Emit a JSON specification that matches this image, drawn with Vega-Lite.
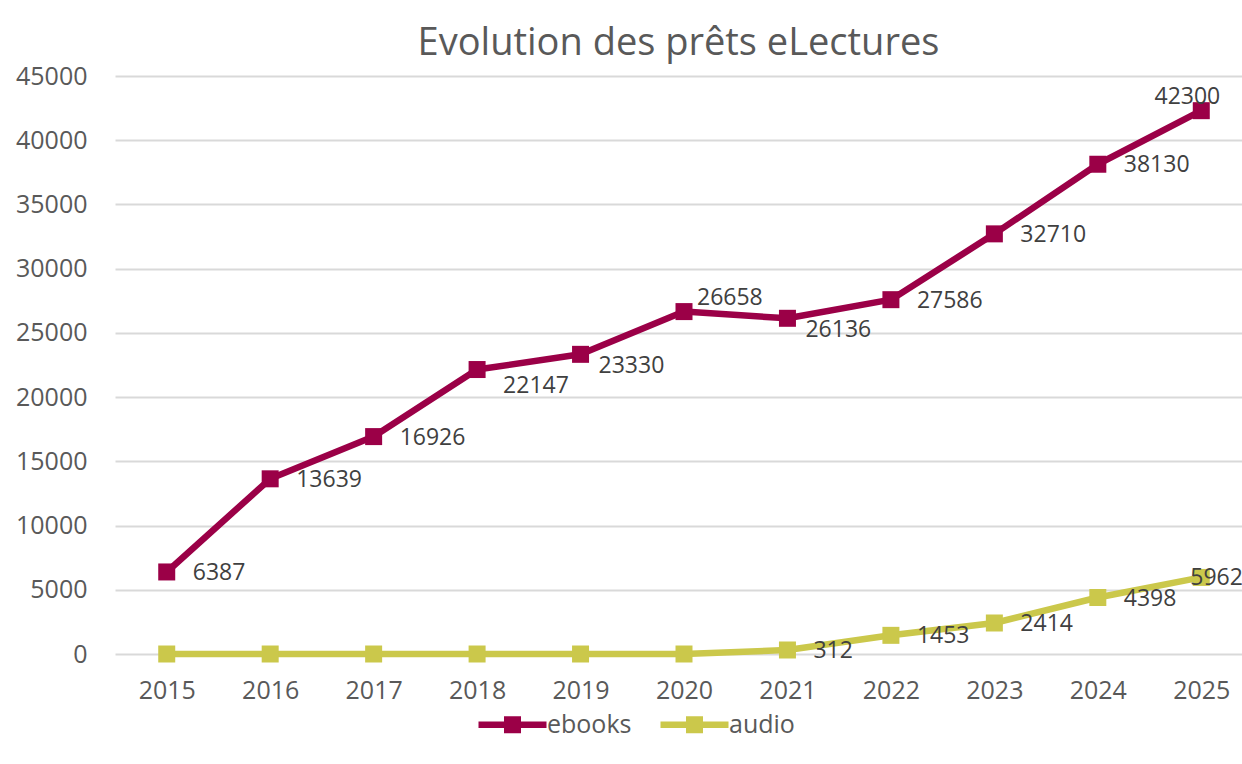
{
  "$schema": "https://vega.github.io/schema/vega-lite/v6.json",
  "autosize": {"type": "none"},
  "width": 1127,
  "height": 578,
  "padding": {"left": 115, "top": 76, "right": 0, "bottom": 110},
  "background": "white",
  "title": {
    "text": "Evolution des prêts eLectures",
    "font": "Open Sans",
    "fontSize": 38,
    "fontWeight": "normal",
    "color": "#595959",
    "anchor": "middle",
    "offset": 1
  },
  "config": {
    "view": {"stroke": null},
    "font": "Open Sans"
  },
  "data": {
    "values": [
      {"year": 2015, "series": "ebooks", "value": 6387},
      {"year": 2016, "series": "ebooks", "value": 13639},
      {"year": 2017, "series": "ebooks", "value": 16926},
      {"year": 2018, "series": "ebooks", "value": 22147},
      {"year": 2019, "series": "ebooks", "value": 23330},
      {"year": 2020, "series": "ebooks", "value": 26658},
      {"year": 2021, "series": "ebooks", "value": 26136},
      {"year": 2022, "series": "ebooks", "value": 27586},
      {"year": 2023, "series": "ebooks", "value": 32710},
      {"year": 2024, "series": "ebooks", "value": 38130},
      {"year": 2025, "series": "ebooks", "value": 42300},
      {"year": 2015, "series": "audio", "value": 0},
      {"year": 2016, "series": "audio", "value": 0},
      {"year": 2017, "series": "audio", "value": 0},
      {"year": 2018, "series": "audio", "value": 0},
      {"year": 2019, "series": "audio", "value": 0},
      {"year": 2020, "series": "audio", "value": 0},
      {"year": 2021, "series": "audio", "value": 312},
      {"year": 2022, "series": "audio", "value": 1453},
      {"year": 2023, "series": "audio", "value": 2414},
      {"year": 2024, "series": "audio", "value": 4398},
      {"year": 2025, "series": "audio", "value": 5962}
    ]
  },
  "encoding": {
    "x": {
      "field": "year",
      "type": "ordinal",
      "scale": {"type": "point", "padding": 0.5, "range": [0, 1138]},
      "axis": {
        "title": null,
        "labelAngle": 0,
        "domain": false,
        "ticks": false,
        "grid": false,
        "labelFont": "Open Sans",
        "labelFontSize": 25,
        "labelColor": "#595959",
        "labelPadding": 24
      }
    },
    "y": {
      "field": "value",
      "type": "quantitative",
      "scale": {"domain": [0, 45000], "nice": false},
      "axis": {
        "title": null,
        "values": [0, 5000, 10000, 15000, 20000, 25000, 30000, 35000, 40000, 45000],
        "format": "d",
        "domain": false,
        "ticks": false,
        "gridColor": "#D9D9D9",
        "gridWidth": 2,
        "labelFont": "Open Sans",
        "labelFontSize": 25,
        "labelColor": "#595959",
        "labelPadding": 28
      }
    },
    "color": {
      "field": "series",
      "type": "nominal",
      "scale": {"domain": ["ebooks", "audio"], "range": ["#9B0047", "#CBC84B"]},
      "legend": {
        "title": null,
        "orient": "none",
        "legendX": 385,
        "legendY": 636,
        "direction": "horizontal",
        "symbolType": "M-4,-0.38H4V0.38H-4Z M-1,-1H1V1H-1Z",
        "symbolSize": 289,
        "symbolStrokeWidth": 0,
        "symbolOpacity": 1,
        "labelFont": "Open Sans",
        "labelFontSize": 25,
        "labelColor": "#595959",
        "labelOffset": 22,
        "columnPadding": 28,
        "encode": {
          "symbols": {
            "update": {
              "fill": {"scale": "color", "field": "value"},
              "fillOpacity": {"value": 1},
              "strokeWidth": {"value": 0}
            }
          }
        }
      }
    }
  },
  "layer": [
    {
      "mark": {"type": "line", "strokeWidth": 6.5, "strokeJoin": "round", "strokeCap": "round"}
    },
    {
      "mark": {"type": "point", "shape": "square", "filled": true, "opacity": 1, "size": 289}
    },
    {
      "transform": [{"filter": "(datum.series == 'ebooks' && (datum.year <= 2017 || (datum.year >= 2022 && datum.year <= 2024))) || (datum.series == 'audio' && datum.year >= 2021 && datum.year <= 2024)"}],
      "mark": {"type": "text", "align": "left", "baseline": "middle", "dx": 26, "dy": 1, "fontSize": 23},
      "encoding": {"text": {"field": "value", "type": "quantitative", "format": "d"}, "color": {"value": "#404040"}}
    },
    {
      "transform": [{"filter": "datum.series == 'ebooks' && datum.year == 2018"}],
      "mark": {"type": "text", "align": "left", "baseline": "middle", "dx": 26, "dy": 16, "fontSize": 23},
      "encoding": {"text": {"field": "value", "type": "quantitative", "format": "d"}, "color": {"value": "#404040"}}
    },
    {
      "transform": [{"filter": "datum.series == 'ebooks' && (datum.year == 2019 || datum.year == 2021)"}],
      "mark": {"type": "text", "align": "left", "baseline": "middle", "dx": 18, "dy": 12, "fontSize": 23},
      "encoding": {"text": {"field": "value", "type": "quantitative", "format": "d"}, "color": {"value": "#404040"}}
    },
    {
      "transform": [{"filter": "datum.series == 'ebooks' && datum.year == 2020"}],
      "mark": {"type": "text", "align": "left", "baseline": "middle", "dx": 13, "dy": -14, "fontSize": 23},
      "encoding": {"text": {"field": "value", "type": "quantitative", "format": "d"}, "color": {"value": "#404040"}}
    },
    {
      "transform": [{"filter": "datum.series == 'ebooks' && datum.year == 2025"}],
      "mark": {"type": "text", "align": "right", "baseline": "middle", "dx": 19, "dy": -14, "fontSize": 23},
      "encoding": {"text": {"field": "value", "type": "quantitative", "format": "d"}, "color": {"value": "#404040"}}
    },
    {
      "transform": [{"filter": "datum.series == 'audio' && datum.year == 2025"}],
      "mark": {"type": "text", "align": "left", "baseline": "middle", "dx": -11, "dy": 1, "fontSize": 23},
      "encoding": {"text": {"field": "value", "type": "quantitative", "format": "d"}, "color": {"value": "#404040"}}
    }
  ]
}
